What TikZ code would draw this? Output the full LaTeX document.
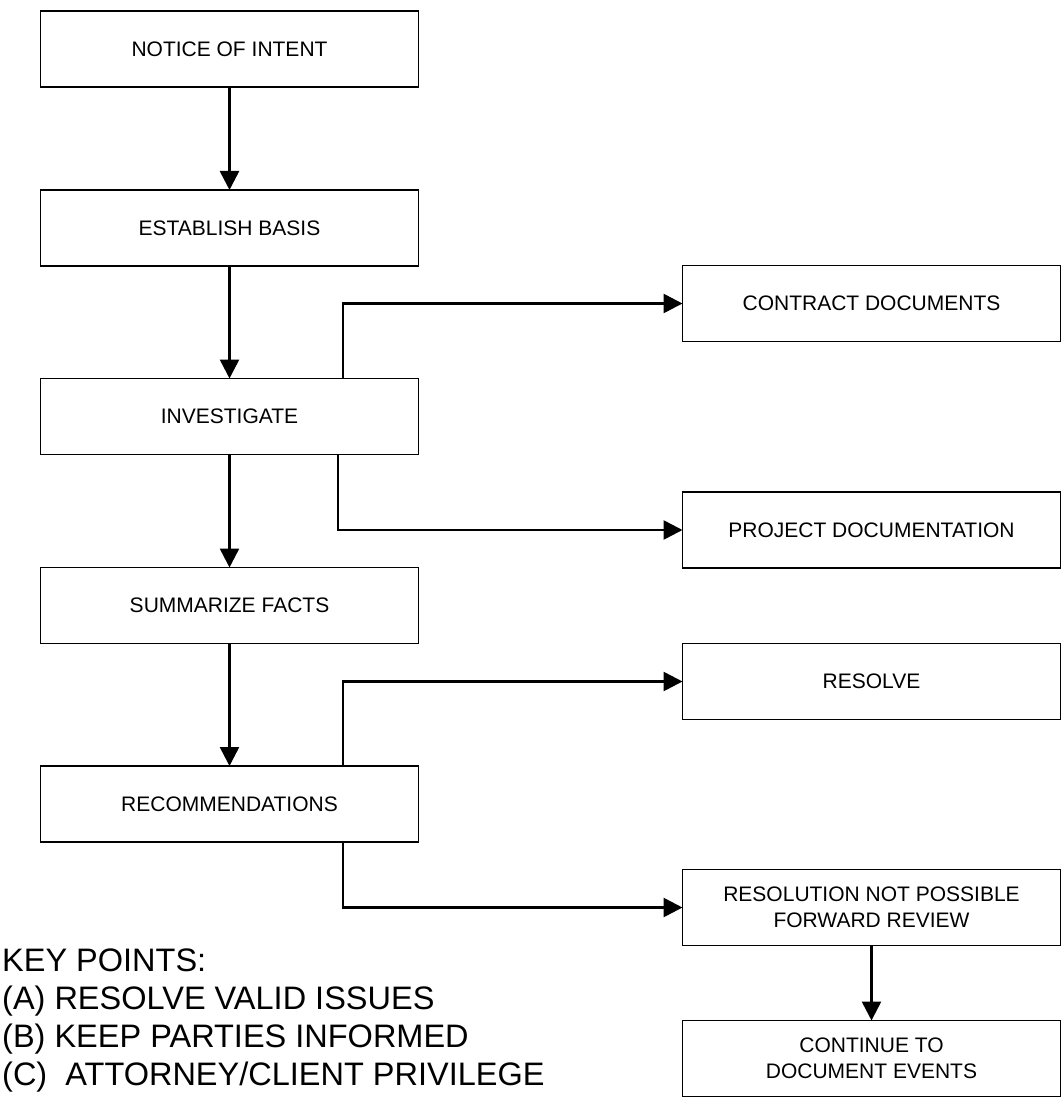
\documentclass[tikz,border=0pt]{standalone}
\usepackage{fontspec}
\setmainfont{Liberation Sans}
\usetikzlibrary{arrows.meta}

\begin{document}
\begin{tikzpicture}[x=1pt,y=-1pt,>={Triangle[length=19pt,width=19pt]},
    box/.style={draw,line width=1.8pt,minimum width=378pt,minimum height=76pt,inner sep=0pt,outer sep=0pt,align=center,font=\fontsize{21}{26}\selectfont},
    flow/.style={->,line width=2.6pt}]
    \path (0,0) rectangle (1061,1099);

    % main column
    \node[box] (notice) at (229.5,49) {NOTICE OF INTENT};
    \node[box] (basis) at (229.5,228) {ESTABLISH BASIS};
    \node[box] (invest) at (229.5,416.5) {INVESTIGATE};
    \node[box] (facts) at (229.5,605.5) {SUMMARIZE FACTS};
    \node[box] (recom) at (229.5,804) {RECOMMENDATIONS};

    % side column
    \node[box] (contract) at (871.5,303.5) {CONTRACT DOCUMENTS};
    \node[box] (project) at (871.5,530) {PROJECT DOCUMENTATION};
    \node[box] (resolve) at (871.5,681.5) {RESOLVE};
    \node[box] (forward) at (871.5,907.5) {RESOLUTION NOT POSSIBLE\\FORWARD REVIEW};
    \node[box] (cont) at (871.5,1058.5) {CONTINUE TO\\DOCUMENT EVENTS};

    \foreach \a/\b in {notice/basis,basis/invest,invest/facts,facts/recom}{
      \draw[flow] (\a) -- (\b);
    }
    \draw[flow] ([xshift=113.5pt]invest.north) |- (contract);
    \draw[flow] ([xshift=108.5pt]invest.south) |- (project);
    \draw[flow] ([xshift=113.5pt]recom.north) |- (resolve);
    \draw[flow] ([xshift=113.5pt]recom.south) |- (forward);
    \draw[flow] (forward) -- (cont);

    \node[anchor=north west,align=left,inner sep=0pt,font=\fontsize{32.5}{38}\selectfont] (keypts) at (2,948.5)
      {KEY POINTS:\\(A) RESOLVE VALID ISSUES\\(B) KEEP PARTIES INFORMED\\(C)\ \ ATTORNEY/CLIENT PRIVILEGE};
\end{tikzpicture}
\end{document}
